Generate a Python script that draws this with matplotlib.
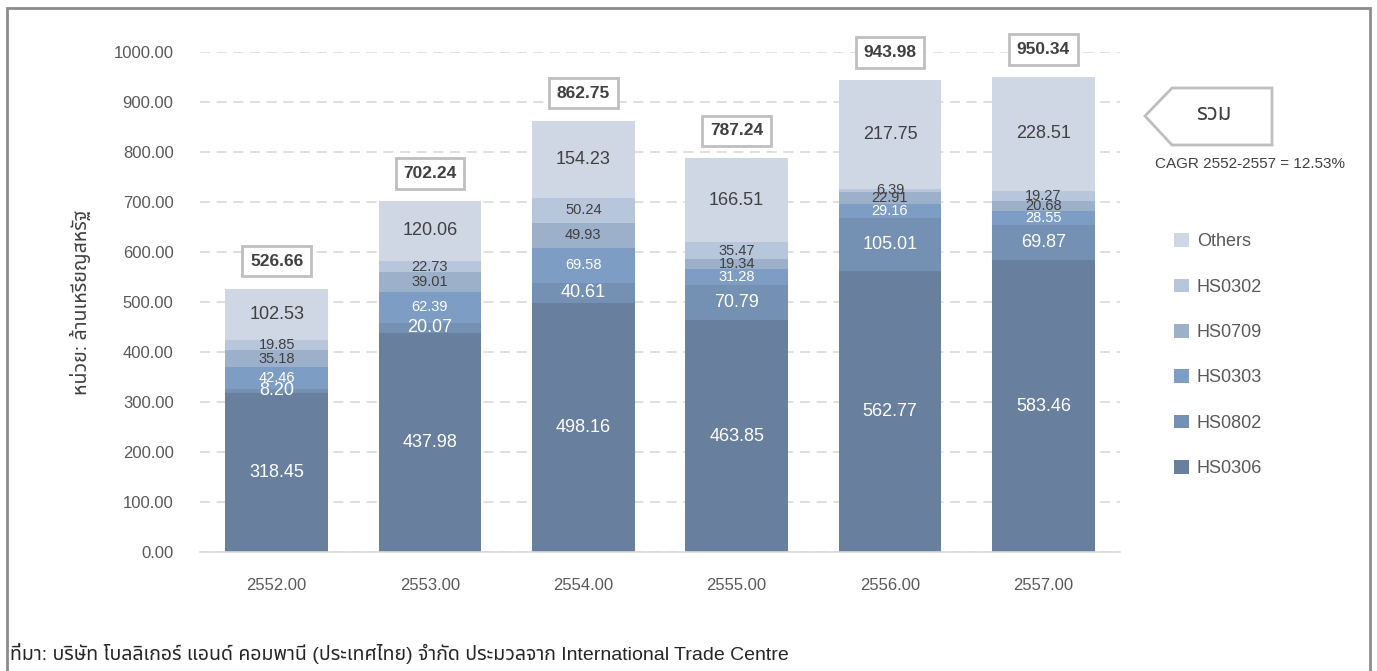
import matplotlib
matplotlib.use("Agg")
import matplotlib.pyplot as plt
import matplotlib.font_manager as fm
from matplotlib.patches import Patch, Polygon, Rectangle
import numpy as np

# Data (million USD)
years = ["2552.00", "2553.00", "2554.00", "2555.00", "2556.00", "2557.00"]
hs0306 = [318.45, 437.98, 498.16, 463.85, 562.77, 583.46]
hs0802 = [8.20, 20.07, 40.61, 70.79, 105.01, 69.87]
hs0303 = [42.46, 62.39, 69.58, 31.28, 29.16, 28.55]
hs0709 = [35.18, 39.01, 49.93, 19.34, 22.91, 20.68]
hs0302 = [19.85, 22.73, 50.24, 35.47, 6.39, 19.27]
others = [102.53, 120.06, 154.23, 166.51, 217.75, 228.51]
totals = [526.66, 702.24, 862.75, 787.24, 943.98, 950.34]
series_names = ["HS0306", "HS0802", "HS0303", "HS0709", "HS0302", "Others"]
yticks = [0, 100, 200, 300, 400, 500, 600, 700, 800, 900, 1000]

# pick a font that can draw Thai; Latin text stays in Liberation Sans
thai_candidates = ["Noto Sans Thai", "Noto Sans Thai UI", "Tahoma", "Loma", "Garuda",
                   "Norasi", "Sarabun", "Kinnari", "Waree", "Umpush", "Laksaman"]
installed = {f.name for f in fm.fontManager.ttflist}
thai_font = [f for f in thai_candidates if f in installed]
plt.rcParams["font.family"] = ["Liberation Sans"] + thai_font + ["DejaVu Sans"]

colors = ["#687f9e", "#7490b2", "#7d9dc4", "#9db0ca", "#b8c6db", "#cfd7e5"]
txt_colors = ["white", "white", "white", "#404040", "#404040", "#404040"]
txt_sizes = [13, 13, 10.5, 10.5, 10.5, 13]

fig = plt.figure(figsize=(13.77, 6.71), dpi=100)
ax = fig.add_axes([200 / 1377, 1 - 552 / 671, 920 / 1377, 500 / 671])

x = np.arange(len(years))
data = [hs0306, hs0802, hs0303, hs0709, hs0302, others]
bottom = np.zeros(len(years))
handles = []
for vals, name, c, tc, ts in zip(data, series_names, colors, txt_colors, txt_sizes):
    vals = np.array(vals)
    ax.bar(x, vals, 0.67, bottom=bottom, color=c, zorder=3)
    for xi, b, v in zip(x, bottom, vals):
        ax.text(xi, b + v / 2, f"{v:.2f}", ha="center", va="center",
                color=tc, fontsize=ts, zorder=4)
    handles.append(Patch(facecolor=c, label=name))
    bottom += vals

for xi, t in zip(x, totals):
    ax.text(xi, t + 55, f"{t:.2f}", ha="center", va="center", fontsize=12.5,
            fontweight="bold", color="#404040", zorder=5, clip_on=False,
            bbox=dict(boxstyle="square,pad=0.45", facecolor="white",
                      edgecolor="#bfbfbf", linewidth=2))

ax.set_xlim(-0.5, 5.5)
ax.set_ylim(0, 1000)
ax.set_yticks(yticks)
ax.set_yticklabels([f"{v:.2f}" for v in yticks])
ax.set_xticks(x)
ax.set_xticklabels(years)
ax.tick_params(axis="y", length=0, pad=19, labelsize=12, labelcolor="#595959")
ax.tick_params(axis="x", length=0, pad=19, labelsize=12, labelcolor="#595959")
ax.grid(axis="y", color="#d9d9d9", linestyle=(0, (6, 4)), linewidth=1.2, zorder=0)
for s in ["top", "right", "left"]:
    ax.spines[s].set_visible(False)
ax.spines["bottom"].set_color("#d9d9d9")
ax.spines["bottom"].set_linewidth(1.2)
ax.spines["bottom"].set_zorder(4)

ax.set_ylabel("หน่วย: ล้านเหรียญสหรัฐ", fontsize=14, color="#404040")
ax.yaxis.set_label_coords(-0.118, 0.5)

fig.legend(handles=handles[::-1], loc="upper left",
           bbox_to_anchor=(1158 / 1377, 1 - 217 / 671), frameon=False,
           fontsize=13, labelspacing=1.56, handlelength=0.8,
           handleheight=0.8, handletextpad=0.45, labelcolor="#595959")

# "รวม" arrow tag
px = np.array([1145, 1172, 1272, 1272, 1172]) / 1377
py = 1 - np.array([116, 88, 88, 145, 145]) / 671
fig.add_artist(Polygon(np.column_stack([px, py]), closed=True, facecolor="white",
                       edgecolor="#bfbfbf", linewidth=2, transform=fig.transFigure))
fig.text(1214 / 1377, 1 - 115 / 671, "รวม", fontsize=16,
         fontweight="bold", color="#404040", ha="center", va="center")
fig.text(1250 / 1377, 1 - 164 / 671, "CAGR 2552-2557 = 12.53%", fontsize=11,
         color="#404040", ha="center", va="center")

fig.text(10 / 1377, 1 - 653 / 671,
         "ที่มา: บริษัท โบลลิเกอร์ แอนด์ คอมพานี (ประเทศไทย) จำกัด ประมวลจาก International Trade Centre",
         fontsize=14, color="#262626", ha="left", va="center")

# outer frame
fig.add_artist(Rectangle((7 / 1377, -0.05), 1363 / 1377, 1.05 - 8 / 671, fill=False,
                         edgecolor="#8c8c8c", linewidth=2, transform=fig.transFigure))

fig.savefig("out.png", dpi=100)
